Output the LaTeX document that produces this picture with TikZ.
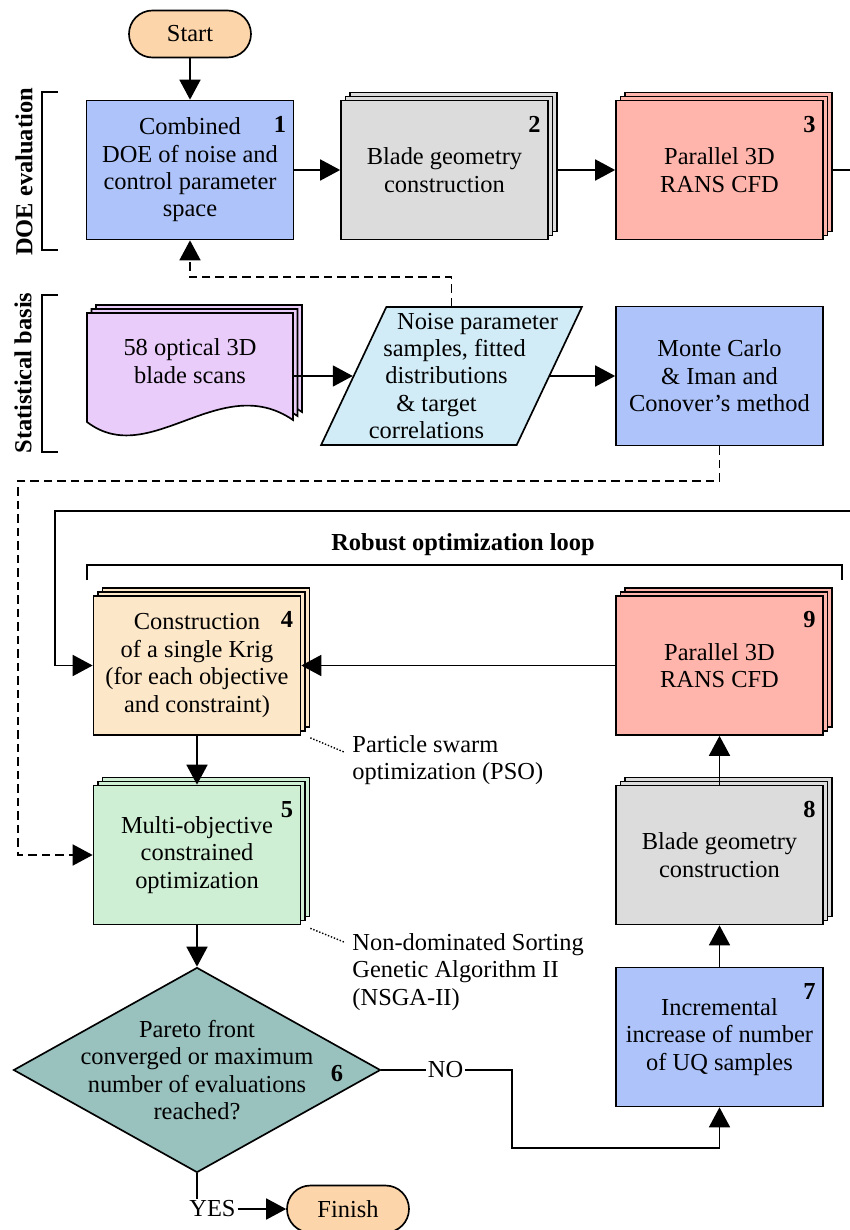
\documentclass[tikz,border=0pt]{standalone}
\usepackage{fontspec}
\setmainfont{Liberation Serif}
\usetikzlibrary{shapes.geometric, arrows.meta, calc, shadows}
\definecolor{termFill}{HTML}{FCD5AA}
\definecolor{doeBlue}{HTML}{AEC3F9}
\definecolor{geoGray}{HTML}{DCDCDC}
\definecolor{cfdPink}{HTML}{FFB5AC}
\definecolor{scanLilac}{HTML}{EACCFA}
\definecolor{dataCyan}{HTML}{D1ECF7}
\definecolor{krigPeach}{HTML}{FDE7C9}
\definecolor{optGreen}{HTML}{CFEFD4}
\definecolor{decTeal}{HTML}{99C2BF}
\tikzset{
  box/.style={draw, rectangle, minimum width=4.14cm, minimum height=2.78cm, align=center, line width=0.95pt},
  stack/.style={box, copy shadow={shadow xshift=0.18cm, shadow yshift=0.16cm},
    copy shadow={shadow xshift=0.09cm, shadow yshift=0.08cm}},
  term/.style={draw, rectangle, rounded corners=0.47cm, minimum width=2.44cm, minimum height=0.94cm, fill=termFill, line width=0.95pt},
  num/.style={font=\bfseries, anchor=north east, inner xsep=0.16cm, inner ysep=0.32cm},
  flow/.style={line width=1pt, -{Triangle[length=0.4cm, width=0.42cm]}},
  dashflow/.style={flow, dash pattern=on 0.17cm off 0.1cm},
  note/.style={align=left, anchor=west},
  bracket/.style={line width=0.8pt}
}
\begin{document}
\fontsize{13.9pt}{15.6pt}\selectfont
\begin{tikzpicture}[x=0.2mm, y=-0.2mm]
  \useasboundingbox (0,0) rectangle (850,1230);

  % DOE evaluation row
  \node[term] (start) at (190,34) {Start};
  \node[box, fill=doeBlue, label={[num]north east:1}] (doe) at (190,170) {Combined\\DOE of noise and\\control parameter\\space};
  \node[stack, fill=geoGray, label={[num]north east:2}] (geo) at (444.5,170) {Blade geometry\\construction};
  \node[stack, fill=cfdPink, label={[num]north east:3}] (cfd) at (719.5,170) {Parallel 3D\\RANS CFD};
  \coordinate (cfdout) at (850,170);

  % Statistical basis row
  \foreach \s in {2,1,0}
    \draw[line width=0.95pt, fill=scanLilac, shift={(4.5*\s,-4*\s)}]
      (87,313) -- (293,313) -- (293,420) .. controls (220,370) and (150,470) .. (87,422) -- cycle;
  \node[minimum width=4.12cm, align=center] (scan) at (190,361) {58 optical 3D\\blade scans};
  \node[draw, fill=dataCyan, line width=0.95pt, trapezium, trapezium left angle=63.43,
    trapezium right angle=116.57, trapezium stretches=true, minimum width=5.22cm, minimum height=2.76cm,
    label={[align=center]center:\hspace*{1.04cm}Noise parameter\\\hspace*{0.12cm}samples, fitted\\distributions\hspace*{0.2cm}\mbox{}\\\& target\hspace*{0.6cm}\mbox{}\\correlations\hspace*{1.0cm}\mbox{}}] (pdat) at (451.5,376) {};
  \node[box, fill=doeBlue] (mc) at (719.5,376) {Monte Carlo\\\& Iman and\\Conover’s method};

  % optimization loop
  \coordinate (loopin) at (850,511);
  \node[font=\bfseries] (looptitle) at (463,545) {Robust optimization loop};
  \node[stack, fill=krigPeach, label={[num]north east:4}] (krig) at (197,665.5) {Construction\\of a single Krig\\(for each objective\\and constraint)};
  \node[stack, fill=optGreen, label={[num]north east:5}] (moo) at (197,855) {Multi-objective\\constrained\\optimization};
  \node[stack, fill=cfdPink, label={[num]north east:9}] (cfd9) at (719.5,665.5) {Parallel 3D\\RANS CFD};
  \node[stack, fill=geoGray, label={[num]north east:8}] (geo8) at (719.5,855) {Blade geometry\\construction};
  \node[box, fill=doeBlue, label={[num]north east:7}] (uq7) at (719.5,1037) {Incremental\\increase of number\\of UQ samples};
  \node[draw, diamond, fill=decTeal, line width=0.95pt, minimum width=7.34cm, minimum height=4.1cm, inner sep=0pt,
    label={[align=center]center:Pareto front\\converged or maximum\\number of evaluations\\reached?}] (dec) at (197,1070) {};
  \node[font=\bfseries] (n6) at (337,1074) {6};
  \node[inner sep=1pt] (no) at (445.5,1070) {NO};
  \node[inner sep=1pt] (yes) at (212.5,1209) {YES};
  \node[term] (fin) at (348,1209) {Finish};

  % notes
  \node[note] (pso) at (344,760) {Particle swarm\\optimization (PSO)};
  \node[note] (nsga) at (344,972) {Non-dominated Sorting\\Genetic Algorithm II\\(NSGA-II)};

  % brackets
  \node[rotate=90, font=\bfseries] (doelbl) at (24,172) {DOE evaluation};
  \node[rotate=90, font=\bfseries] (statlbl) at (23,373) {Statistical basis};
  \draw[bracket] (58,92) -| (42,250) -- (58,250);
  \draw[bracket] (58,295) -| (42,452) -- (58,452);
  \draw[bracket] (87,580) |- (842,565) -- (842,580);

  % connectors
  \draw[flow] (start) -- (doe);
  \draw[flow] (doe) -- (geo);
  \draw[flow] ([xshift=0.18cm]geo.east) -- (cfd);
  \draw[line width=1pt] ([xshift=0.18cm]cfd.east) -- (cfdout);
  \draw[flow] (scan.east |- pdat.left side) -- (pdat.left side);
  \draw[flow] (pdat.right side) -- (mc);
  \draw[dashflow] (pdat.center |- pdat.north) -- ++(0,-29) -| (doe.south);
  \draw[dashflow] (mc.south) -- ++(0,35) -| (18,855) -- (moo.west);
  \draw[flow] (loopin) -| ($(krig.west)+(-38,0)$) -- (krig.west);
  \draw[flow] (cfd9.west) -- (krig.east);
  \draw[flow] (krig) -- (moo);
  \draw[flow] (moo) -- (dec);
  \draw[line width=1pt] (dec.east) -- (no.west);
  \draw[flow] (no.east) -| (512,1148) -| (uq7.south);
  \draw[flow] (uq7) -- (geo8);
  \draw[flow] (geo8) -- (cfd9);
  \draw[line width=1pt] (dec.south) -- (dec.south |- yes.north);
  \draw[flow] (yes) -- (fin);
  \draw[densely dotted, line width=0.8pt] ($(krig.south east)+(9,2)$) -- ($(pso.west)+(0,-8)$);
  \draw[densely dotted, line width=0.8pt] ($(moo.south east)+(9,3)$) -- ($(nsga.west)+(0,-30)$);
\end{tikzpicture}
\end{document}
